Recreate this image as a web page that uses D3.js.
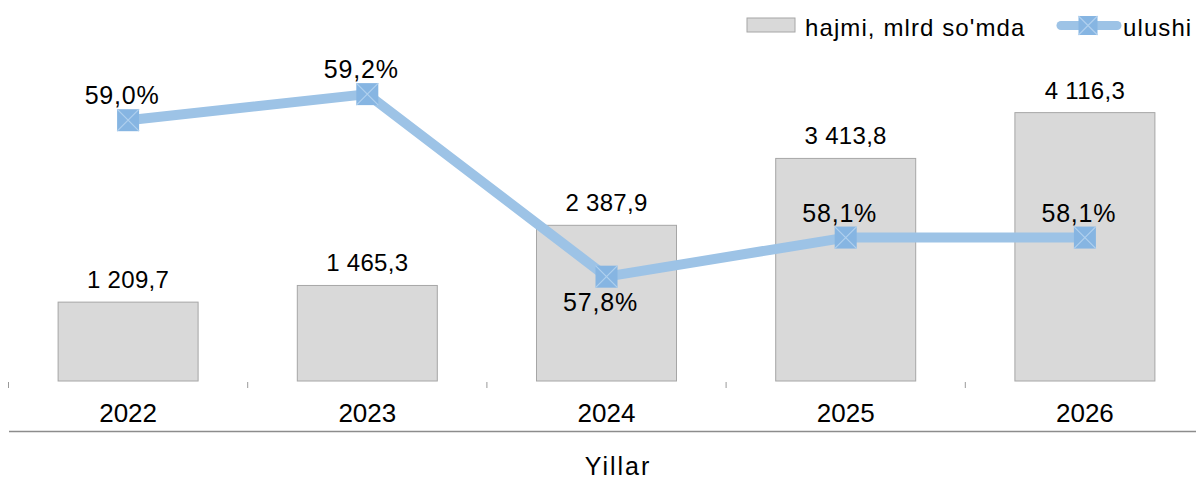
<!DOCTYPE html>
<html><head><meta charset="utf-8">
<script src="https://cdn.jsdelivr.net/npm/d3@7"></script>
<style>html,body{margin:0;padding:0;background:#fff;}svg{display:block;font-family:"Liberation Sans",Arial,sans-serif;}</style>
</head><body>
<svg id="c" width="1196" height="479"></svg>
<script>
const years = ["2022","2023","2024","2025","2026"];
const volume = [1209.7, 1465.3, 2387.9, 3413.8, 4116.3];
const volumeLabels = ["1 209,7","1 465,3","2 387,9","3 413,8","4 116,3"];
const share = [59.0, 59.2, 57.8, 58.1, 58.1];
const shareLabels = ["59,0%","59,2%","57,8%","58,1%","58,1%"];
const shareLabelPos = ["above","above","below","above","above"];
const legendNames = ["hajmi, mlrd so'mda","ulushi"];
const axisTitle = "Yillar";

(function(){
const svg = d3.select("#c");
const plotTop = 55, plotBottom = 381;
const x = d3.scaleBand().domain(years).range([8.5, 1204.5]).paddingInner(0).paddingOuter(0);
const y1 = d3.scaleLinear().domain([0, 5000]).range([plotBottom, plotTop]);
const y2 = d3.scaleLinear().domain([57, 59.5]).range([plotBottom, plotTop]);
const barW = 140;
const lineColor = "#9dc3e6", markColor = "#86b5e2";

// bars
svg.append("g").selectAll("rect").data(years).join("rect")
  .attr("x", d => x(d) + x.bandwidth()/2 - barW/2)
  .attr("y", (d,i) => y1(volume[i]))
  .attr("width", barW)
  .attr("height", (d,i) => plotBottom - y1(volume[i]))
  .attr("fill", "#d9d9d9").attr("stroke", "#a6a6a6").attr("stroke-width", 1);

svg.append("g").selectAll("text").data(years).join("text")
  .attr("x", d => x(d) + x.bandwidth()/2)
  .attr("y", (d,i) => y1(volume[i]) - 14)
  .attr("text-anchor", "middle").attr("font-size", 24).attr("letter-spacing", 0.3).attr("fill", "#000")
  .text((d,i) => volumeLabels[i]);

// axis ticks
const ticks = years.map(d => x(d)).concat([x.range()[1]]);
svg.append("g").selectAll("line").data(ticks).join("line")
  .attr("x1", d => d).attr("x2", d => d).attr("y1", 382).attr("y2", 388)
  .attr("stroke", "#9a9a9a").attr("stroke-width", 1);
svg.append("line").attr("x1", 9).attr("x2", 1196).attr("y1", 431.5).attr("y2", 431.5)
  .attr("stroke", "#8c8c8c").attr("stroke-width", 1.5);
svg.append("g").selectAll("text").data(years).join("text")
  .attr("x", d => x(d) + x.bandwidth()/2).attr("y", 422)
  .attr("text-anchor", "middle").attr("font-size", 26).attr("fill", "#000").text(d => d);
svg.append("text").attr("x", 618).attr("y", 475).attr("text-anchor", "middle")
  .attr("font-size", 25).attr("letter-spacing", 2).attr("fill", "#000").text(axisTitle);

// line
const line = d3.line().x((d,i) => x(years[i]) + x.bandwidth()/2).y(d => y2(d));
svg.append("path").datum(share).attr("d", line).attr("fill", "none")
  .attr("stroke", lineColor).attr("stroke-width", 10).attr("stroke-linejoin", "round");

function marker(g, cx, cy, s) {
  g.append("rect").attr("x", cx - s/2).attr("y", cy - s/2).attr("width", s).attr("height", s).attr("fill", markColor);
  g.append("path").attr("d", `M${cx-s/2},${cy-s/2}L${cx+s/2},${cy+s/2}M${cx+s/2},${cy-s/2}L${cx-s/2},${cy+s/2}`)
    .attr("stroke", "#b0d0ee").attr("stroke-width", 1.2);
}
const mg = svg.append("g");
share.forEach((v,i) => marker(mg, x(years[i]) + x.bandwidth()/2, y2(v), 22));

svg.append("g").selectAll("text").data(share).join("text")
  .attr("x", (d,i) => x(years[i]) + x.bandwidth()/2 - 6)
  .attr("y", (d,i) => shareLabelPos[i] === "above" ? y2(d) - 16 : y2(d) + 34)
  .attr("text-anchor", "middle").attr("font-size", 25).attr("letter-spacing", 0.8).attr("fill", "#000")
  .text((d,i) => shareLabels[i]);

// legend
const lg = svg.append("g");
lg.append("rect").attr("x", 747).attr("y", 18).attr("width", 48).attr("height", 14)
  .attr("fill", "#d9d9d9").attr("stroke", "#a6a6a6");
lg.append("text").attr("x", 805).attr("y", 36).attr("font-size", 24).attr("letter-spacing", 1.1).attr("fill", "#000").text(legendNames[0]);
lg.append("line").attr("x1", 1061).attr("x2", 1117).attr("y1", 25.5).attr("y2", 25.5)
  .attr("stroke", lineColor).attr("stroke-width", 9).attr("stroke-linecap", "round");
marker(lg, 1088, 25.5, 19);
lg.append("text").attr("x", 1123).attr("y", 36).attr("font-size", 24).attr("letter-spacing", 1.1).attr("fill", "#000").text(legendNames[1]);
})();
</script>
</body></html>
